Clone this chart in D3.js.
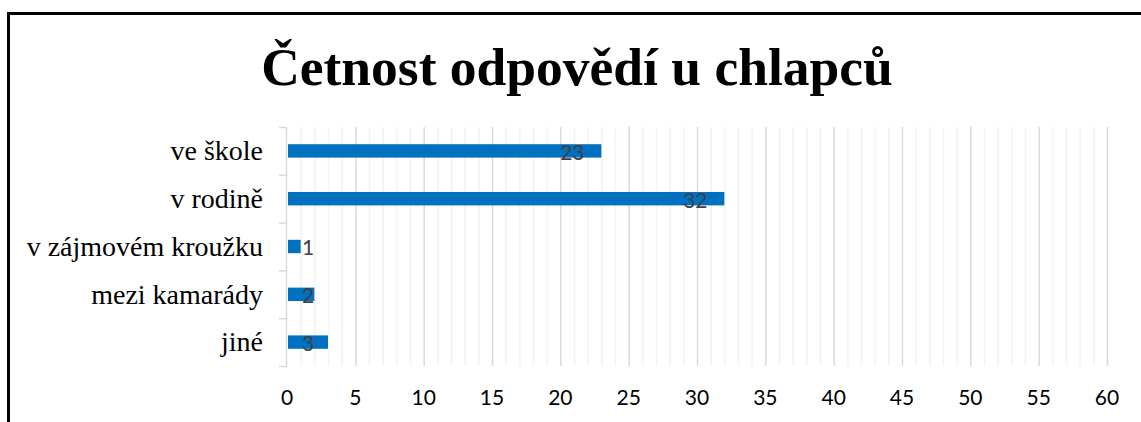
<!DOCTYPE html>
<html><head><meta charset="utf-8">
<script src="https://cdn.jsdelivr.net/npm/d3@7"></script>
<style>html,body{margin:0;padding:0;background:#fff;overflow:hidden}</style>
</head><body>
<svg id="c" width="1141" height="422"></svg>
<script>
const title = "Četnost odpovědí u chlapců";
const categories = ["ve škole", "v rodině", "v zájmovém kroužku", "mezi kamarády", "jiné"];
const values = [23, 32, 1, 2, 3];
const xTicks = [0, 5, 10, 15, 20, 25, 30, 35, 40, 45, 50, 55, 60];

const svg = d3.select("#c");
svg.append("rect").attr("x", 8.5).attr("y", 13.5).attr("width", 1150).attr("height", 430)
  .attr("fill", "#fff").attr("stroke", "#000").attr("stroke-width", 3);

svg.append("text").attr("x", 577).attr("y", 85).attr("text-anchor", "middle")
  .attr("font-family", "Liberation Serif, Times New Roman, serif").attr("font-weight", "bold")
  .attr("font-size", 53.5).attr("fill", "#000").text(title);

const x = d3.scaleLinear().domain([0, 60]).range([287, 1107]);
const y = d3.scaleBand().domain(categories).range([127, 366]).paddingInner(0.72).paddingOuter(0.36);
const band = d3.scaleBand().domain(categories).range([127, 366]);

// minor gridlines
svg.append("g").selectAll("line").data(d3.range(0, 61, 1).filter(d => d % 5 !== 0)).join("line")
  .attr("x1", d => x(d) + 0.5).attr("x2", d => x(d) + 0.5).attr("y1", 127).attr("y2", 366)
  .attr("stroke", "#f2f2f2").attr("stroke-width", 1.5);
// major gridlines
svg.append("g").selectAll("line").data(xTicks.filter(d => d > 0)).join("line")
  .attr("x1", d => x(d) + 0.5).attr("x2", d => x(d) + 0.5).attr("y1", 127).attr("y2", 366)
  .attr("stroke", "#d9d9d9").attr("stroke-width", 1.5);

// y axis line & ticks
const yb = [127, ...categories.map(c => band(c) + band.bandwidth())];
svg.append("line").attr("x1", 286.5).attr("x2", 286.5).attr("y1", 127).attr("y2", 366)
  .attr("stroke", "#d9d9d9").attr("stroke-width", 1.5);
svg.append("g").selectAll("line").data(yb).join("line")
  .attr("x1", 279).attr("x2", 287).attr("y1", d => d + 0.5).attr("y2", d => d + 0.5)
  .attr("stroke", "#d9d9d9").attr("stroke-width", 1.5);

// bars
svg.append("g").selectAll("rect").data(values).join("rect")
  .attr("x", x(0) + 1).attr("y", (d, i) => y(categories[i]))
  .attr("width", d => x(d) - x(0) - 1).attr("height", y.bandwidth())
  .attr("fill", "#0070c0");

// data labels
svg.append("g").selectAll("text").data(values).join("text")
  .attr("x", d => Math.max(x(d) - 29, x(0) + 21))
  .attr("y", (d, i) => y(categories[i]) + y.bandwidth() / 2 + 1)
  .attr("dy", "0.38em").attr("text-anchor", "middle")
  .attr("font-family", "Lato, Open Sans, sans-serif").attr("font-size", 21).attr("fill", "#404040")
  .text(d => d);

// category labels
svg.append("g").selectAll("text").data(categories).join("text")
  .attr("x", 263).attr("y", d => band(d) + band.bandwidth() / 2)
  .attr("dy", "0.33em").attr("text-anchor", "end")
  .attr("font-family", "Liberation Serif, Times New Roman, serif").attr("font-size", 28).attr("fill", "#000")
  .text(d => d);

// x tick labels
svg.append("g").selectAll("text").data(xTicks).join("text")
  .attr("x", d => x(d)).attr("y", 398).attr("dy", "0.35em").attr("text-anchor", "middle")
  .attr("font-family", "Lato, Open Sans, sans-serif").attr("font-size", 21).attr("fill", "#000")
  .text(d => d);
</script>
</body></html>
